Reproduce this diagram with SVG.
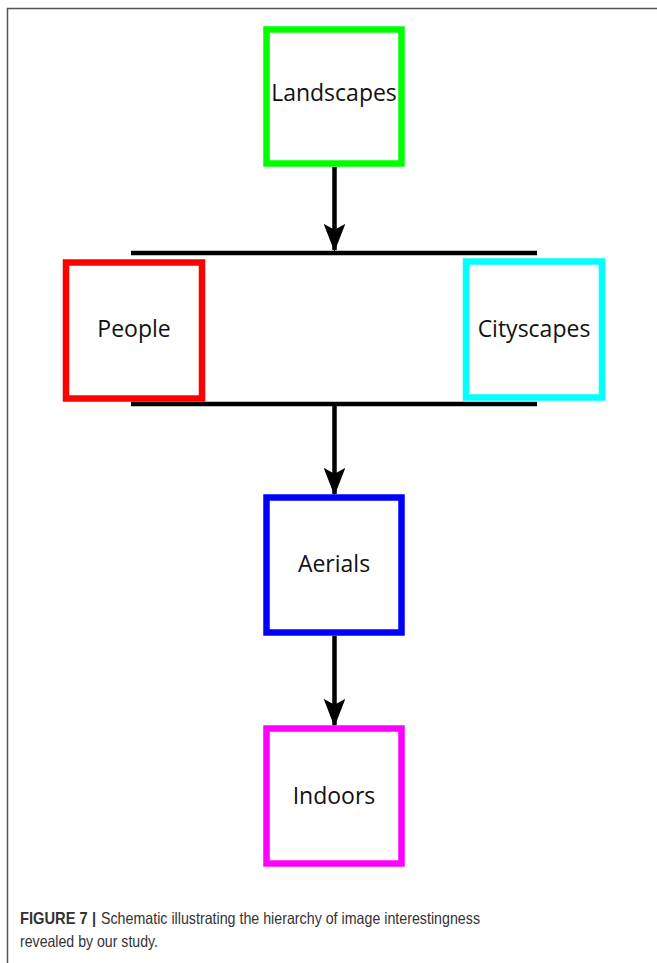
<svg xmlns="http://www.w3.org/2000/svg" width="657" height="963" viewBox="0 0 657 963">
<style>
.box{fill:#fff;stroke-width:6.5}
.lbl{font-family:"Open Sans","Noto Sans",sans-serif;font-size:23px;fill:#111;text-anchor:middle}
.conn{stroke:#000;stroke-width:4.5;fill:none}
.cap{font-family:"Liberation Sans",Arial,sans-serif;font-size:16.5px;fill:#333}
</style>
<defs>
<marker id="ah" markerWidth="6.4" markerHeight="4.8" refX="5.8" refY="2.4" orient="auto" markerUnits="strokeWidth">
<path d="M0,0 L6.2,2.4 L0,4.8 L1.3,2.4 Z" fill="#000"/>
</marker>
</defs>
<rect x="0" y="0" width="657" height="963" fill="#fff"/>
<path d="M7.5,963 V8.5 H657" fill="none" stroke="#555" stroke-width="1.5"/>
<g id="connectors">
<line class="conn" x1="334.5" y1="167" x2="334.5" y2="250" marker-end="url(#ah)"/>
<line class="conn" x1="131" y1="253" x2="537" y2="253"/>
<line class="conn" x1="131" y1="404" x2="537" y2="404"/>
<line class="conn" x1="334.5" y1="404" x2="334.5" y2="494" marker-end="url(#ah)"/>
<line class="conn" x1="334.5" y1="636" x2="334.5" y2="725" marker-end="url(#ah)"/>
</g>
<g id="landscapes">
<rect class="box" x="266.5" y="29.5" width="135" height="134" stroke="#00ff00"/>
<text class="lbl" x="334" y="101">Landscapes</text>
</g>
<g id="people">
<rect class="box" x="66" y="262.5" width="136" height="136" stroke="#ff0000"/>
<text class="lbl" x="134" y="337">People</text>
</g>
<g id="cityscapes">
<rect class="box" x="466" y="261.5" width="136" height="136" stroke="#00ffff"/>
<text class="lbl" x="534" y="337">Cityscapes</text>
</g>
<g id="aerials">
<rect class="box" x="266.5" y="497.5" width="135" height="135" stroke="#0000ff"/>
<text class="lbl" x="334" y="572">Aerials</text>
</g>
<g id="indoors">
<rect class="box" x="266.5" y="728.5" width="135" height="135" stroke="#ff00ff"/>
<text class="lbl" x="334" y="804">Indoors</text>
</g>
<g id="caption">
<text class="cap" x="20" y="924" font-size="15.5" font-weight="bold" fill="#222" textLength="76" lengthAdjust="spacingAndGlyphs">FIGURE 7 |</text>
<text class="cap" x="101" y="924" textLength="379" lengthAdjust="spacingAndGlyphs">Schematic illustrating the hierarchy of image interestingness</text>
<text class="cap" x="20" y="947" textLength="138" lengthAdjust="spacingAndGlyphs">revealed by our study.</text>
</g>
</svg>
